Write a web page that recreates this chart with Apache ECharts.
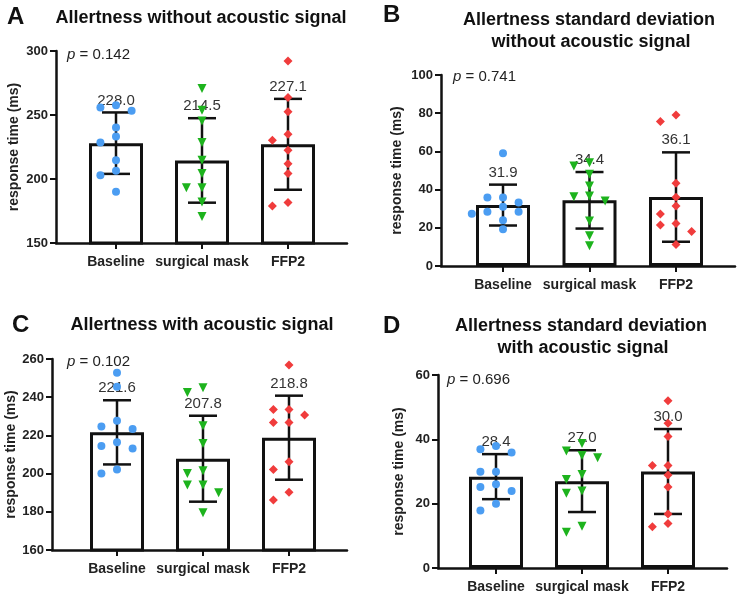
<!DOCTYPE html>
<html>
<head>
<meta charset="utf-8">
<script src="https://cdn.jsdelivr.net/npm/echarts@6/dist/echarts.min.js"></script>
<style>html,body{margin:0;padding:0;background:#fff}#c{width:746px;height:600px}</style>
</head>
<body>
<div id="c"></div>
<script>
// ---------- data ----------
const categories = ['Baseline', 'surgical mask', 'FFP2'];

const A_means = [228.0, 214.5, 227.1];
const A_sd = [24.0, 33.0, 35.5];
const A_baseline = [257.7, 253.3, 255.9, 240.2, 233.2, 228.5, 214.6, 206.5, 202.9, 190.1];
const A_mask = [270.8, 253.8, 245.4, 228.5, 214.6, 204.2, 193.2, 193.2, 182.0, 170.8];
const A_ffp2 = [292.2, 263.7, 252.5, 235.0, 230.3, 222.5, 212.0, 204.2, 178.9, 181.7];
const A_p = '0.142';

const B_means = [31.9, 34.4, 36.1];
const B_sd = [10.7, 14.8, 23.4];
const B_baseline = [59.0, 33.2, 35.8, 35.8, 31.0, 28.4, 28.4, 27.4, 24.0, 19.2];
const B_mask = [52.4, 54.1, 48.0, 41.9, 36.3, 36.6, 34.0, 23.6, 15.9, 10.6];
const B_ffp2 = [75.6, 79.0, 43.3, 36.0, 31.4, 27.2, 22.3, 21.5, 18.0, 11.3];
const B_p = '0.741';

const C_means = [221.6, 207.8, 218.8];
const C_sd = [16.8, 22.5, 22.0];
const C_baseline = [252.8, 245.5, 227.7, 223.4, 224.6, 214.4, 216.4, 213.2, 200.1, 202.2];
const C_mask = [242.5, 245.0, 225.1, 215.8, 200.1, 201.5, 194.0, 194.0, 190.0, 179.5];
const C_ffp2 = [256.9, 233.6, 233.6, 230.7, 226.7, 226.7, 206.2, 202.2, 190.2, 186.2];
const C_p = '0.102';

const D_means = [28.4, 27.0, 30.0];
const D_sd = [7.0, 9.6, 13.2];
const D_baseline = [37.9, 35.9, 36.9, 29.9, 29.9, 25.2, 26.0, 23.9, 17.9, 20.0];
const D_mask = [36.4, 38.7, 35.0, 34.3, 29.1, 27.5, 23.2, 23.9, 11.1, 13.0];
const D_ffp2 = [52.0, 45.0, 40.9, 31.9, 31.9, 28.9, 25.2, 16.8, 12.8, 13.8];
const D_p = '0.696';

// ---------- layout / style ----------
const FONT = 'Arial, "Liberation Sans", sans-serif';
const TXT = '#222';
const colors = ['#4b9df2', '#1db31d', '#f03c3c'];
const symbols = ['circle', 'triangle', 'diamond'];
const symRot = [0, 180, 0];
const symSize = [8, 9, 9];

const panels = [
  { means: A_means, sd: A_sd, groups: [A_baseline, A_mask, A_ffp2], ymin: 150, ymax: 300, interval: 50,
    axisX: 56, c1: 116, sp: 86, right: 347, top: 51, bottom: 243, nameGap: 35 },
  { means: B_means, sd: B_sd, groups: [B_baseline, B_mask, B_ffp2], ymin: 0, ymax: 100, interval: 20,
    axisX: 441, c1: 503, sp: 86.5, right: 735, top: 75, bottom: 266, nameGap: 37 },
  { means: C_means, sd: C_sd, groups: [C_baseline, C_mask, C_ffp2], ymin: 160, ymax: 260, interval: 20,
    axisX: 52, c1: 117, sp: 86, right: 347, top: 359, bottom: 550, nameGap: 32 },
  { means: D_means, sd: D_sd, groups: [D_baseline, D_mask, D_ffp2], ymin: 0, ymax: 60, interval: 20,
    axisX: 438, c1: 496, sp: 86, right: 727, top: 375, bottom: 568, nameGap: 32 }
];

// simple beeswarm: spreads points with similar values sideways
function swarm(values, ppy, sp) {
  const step = 7.8, dxMin = 14.5, dyMin = 8.5;
  const order = values.map((v, i) => i).sort((a, b) => values[b] - values[a]);
  const placed = [];
  const off = new Array(values.length).fill(0);
  order.forEach(i => {
    const y = values[i] * ppy;
    for (let k = 0; k < 20; k++) {
      const x = (k === 0) ? 0 : (k % 2 === 1 ? -1 : 1) * Math.ceil(k / 2) * step;
      const hit = placed.some(p => Math.abs(p.y - y) < dyMin && Math.abs(p.x - x) < dxMin - 0.01);
      if (!hit) { placed.push({ x, y }); off[i] = x / sp; break; }
    }
  });
  return off;
}

const grid = [], xAxis = [], yAxis = [], series = [];
panels.forEach((P, pi) => {
  const c3 = P.c1 + 2 * P.sp;
  grid.push({ left: P.axisX, top: P.top, width: P.right - P.axisX, height: P.bottom - P.top });
  xAxis.push({
    type: 'value', gridIndex: pi,
    min: 1 - (P.c1 - P.axisX) / P.sp, max: 3 + (P.right - c3) / P.sp,
    axisLine: { show: true, onZero: false, lineStyle: { color: '#111', width: 2.5 } },
    axisTick: { show: true, customValues: [1, 2, 3], length: 6, lineStyle: { color: '#111', width: 2 } },
    axisLabel: { show: true, customValues: [1, 2, 3], formatter: v => categories[Math.round(v) - 1],
      fontFamily: FONT, fontWeight: 'bold', fontSize: 14, color: TXT, margin: 12 },
    splitLine: { show: false }
  });
  yAxis.push({
    type: 'value', gridIndex: pi, min: P.ymin, max: P.ymax, interval: P.interval,
    name: 'response time (ms)', nameLocation: 'middle', nameGap: P.nameGap,
    nameTextStyle: { fontFamily: FONT, fontWeight: 'bold', fontSize: 14, color: TXT },
    axisLine: { show: true, lineStyle: { color: '#111', width: 2.5 } },
    axisTick: { show: true, length: 6, lineStyle: { color: '#111', width: 2 } },
    axisLabel: { fontFamily: FONT, fontWeight: 'bold', fontSize: 13, color: TXT, margin: 8 },
    splitLine: { show: false }
  });
  series.push({
    type: 'bar', xAxisIndex: pi, yAxisIndex: pi, barWidth: 54, z: 2,
    itemStyle: { color: '#fff', borderColor: '#111', borderWidth: 3 },
    data: P.means.map((m, i) => [i + 1, m])
  });
  series.push({
    type: 'custom', xAxisIndex: pi, yAxisIndex: pi, z: 3,
    data: P.means.map((m, i) => [i + 1, m, P.sd[i]]),
    encode: { x: 0, y: 1 },
    renderItem: (params, api) => {
      const x = api.value(0), m = api.value(1), s = api.value(2);
      const t = api.coord([x, m + s]), b = api.coord([x, m - s]);
      const hw = 14, ls = { stroke: '#111', lineWidth: 2.5 };
      return { type: 'group', children: [
        { type: 'line', shape: { x1: t[0], y1: t[1], x2: b[0], y2: b[1] }, style: ls },
        { type: 'line', shape: { x1: t[0] - hw, y1: t[1], x2: t[0] + hw, y2: t[1] }, style: ls },
        { type: 'line', shape: { x1: b[0] - hw, y1: b[1], x2: b[0] + hw, y2: b[1] }, style: ls },
        { type: 'text', style: { text: m.toFixed(1), x: t[0], y: t[1] - 12, align: 'center', verticalAlign: 'middle',
          fill: '#333', font: '15px ' + FONT } }
      ] };
    }
  });
  const ppy = (P.bottom - P.top) / (P.ymax - P.ymin);
  P.groups.forEach((vals, g) => {
    const off = swarm(vals, ppy, P.sp);
    series.push({
      type: 'scatter', xAxisIndex: pi, yAxisIndex: pi, z: 4,
      symbol: symbols[g], symbolRotate: symRot[g], symbolSize: symSize[g],
      itemStyle: { color: colors[g], opacity: 1 },
      data: vals.map((v, j) => [g + 1 + off[j], v])
    });
  });
});

const letterStyle = { font: 'bold 24px ' + FONT, fill: '#111', verticalAlign: 'middle' };
const titleFont = 'bold 18px ' + FONT;
function T(text, x, y, extra) {
  return { type: 'text', x, y, style: Object.assign({ text, fill: '#111', font: titleFont, align: 'center', verticalAlign: 'middle' }, extra || {}) };
}
function PV(p, x, y) {
  return { type: 'text', x, y, style: { text: '{i|p} = ' + p, fill: TXT, font: '15px ' + FONT, verticalAlign: 'middle',
    rich: { i: { fontStyle: 'italic', fontSize: 15, fontFamily: FONT, fill: TXT } } } };
}
const graphic = [
  T('A', 7, 17, Object.assign({ align: 'left' }, letterStyle)),
  T('B', 383, 15, Object.assign({ align: 'left' }, letterStyle)),
  T('C', 12, 325, Object.assign({ align: 'left' }, letterStyle)),
  T('D', 383, 326, Object.assign({ align: 'left' }, letterStyle)),
  T('Allertness without acoustic signal', 201, 18),
  T('Allertness standard deviation', 589, 20),
  T('without acoustic signal', 591, 42),
  T('Allertness with acoustic signal', 202, 325),
  T('Allertness standard deviation', 581, 326),
  T('with acoustic signal', 583, 348),
  PV(A_p, 67, 55), PV(B_p, 453, 77), PV(C_p, 67, 362), PV(D_p, 447, 380)
];

const chart = echarts.init(document.getElementById('c'), null, { renderer: 'canvas' });
chart.setOption({ animation: false, backgroundColor: '#fff', grid, xAxis, yAxis, series, graphic });
</script>
</body>
</html>
